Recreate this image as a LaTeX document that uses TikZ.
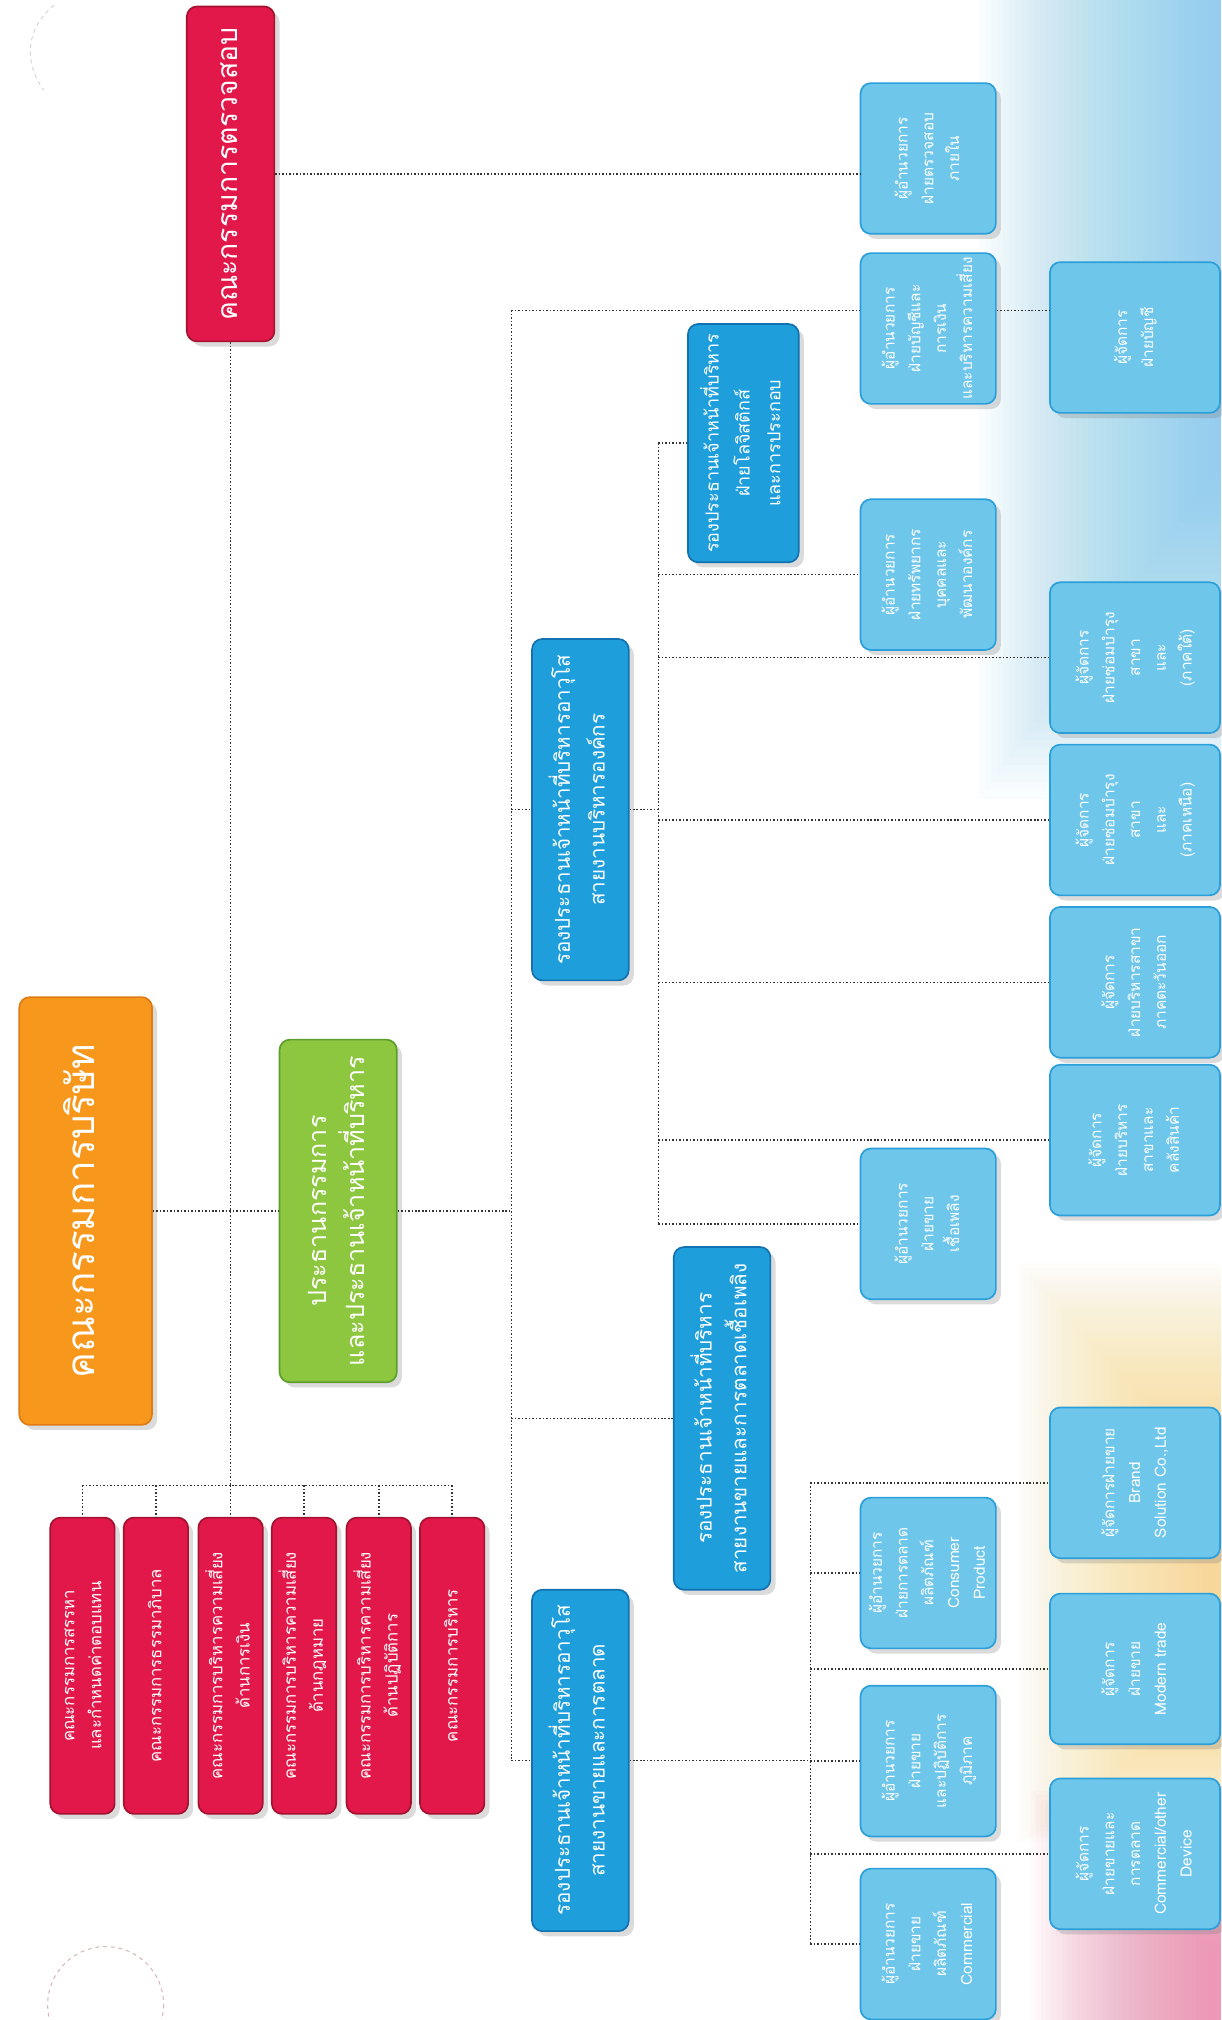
\documentclass[tikz,border=0pt]{standalone}
\usepackage{fontspec}
\usepackage{graphicx}
\newfontfamily\thai[Script=Thai]{Loma}
\usetikzlibrary{shadows,calc}
\definecolor{redF}{HTML}{E2184A}
\definecolor{redD}{HTML}{A3122F}
\definecolor{orgF}{HTML}{F7981D}
\definecolor{orgD}{HTML}{E07A14}
\definecolor{grnF}{HTML}{8DC63F}
\definecolor{grnD}{HTML}{5E9E2C}
\definecolor{bluF}{HTML}{1E9FDB}
\definecolor{bluD}{HTML}{1271B0}
\definecolor{lbF}{HTML}{6EC6EA}
\definecolor{lbD}{HTML}{2B9FD9}
\definecolor{bgBlue}{HTML}{7CCBEE}
\definecolor{bgYel}{HTML}{F8D77E}
\definecolor{bgPink}{HTML}{EC7FA6}
\newcommand{\rtxt}[1]{\rotatebox{90}{\begin{tabular}{@{}c@{}}#1\end{tabular}}}
\begin{document}
\begin{tikzpicture}[x=1pt,y=-1pt,
  box/.style={rounded corners=8pt, line width=1.3pt, inner sep=0pt, text=white,
    drop shadow={shadow xshift=4pt, shadow yshift=-4pt, opacity=0.28}},
  redbox/.style={box, fill=redF, draw=redD},
  orgbox/.style={box, fill=orgF, draw=orgD},
  grnbox/.style={box, fill=grnF, draw=grnD},
  vpbox/.style={box, fill=bluF, draw=bluD, font=\thai\fontsize{16}{27}\selectfont},
  lbbox/.style={box, fill=lbF, draw=lbD, font=\thai\fontsize{12}{20}\selectfont},
  abox/.style={lbbox, minimum width=105, minimum height=117},
  bbox/.style={lbbox, minimum width=132, minimum height=117},
  cbox/.style={redbox, minimum width=50, minimum height=230, font=\thai\fontsize{13}{21}\selectfont},
  conn/.style={line width=1.2pt, dash pattern=on 1.2pt off 1.5pt, black!80}
]
\useasboundingbox (0,0) rectangle (948,1568);
\fill[white] (0,0) rectangle (948,1568);
% background tints (stacked translucent layers)
\foreach \i in {0,...,39}
  \fill[bgBlue, opacity=0.032] (760+\i*4.7,0) rectangle (948,620-\i*6.5);
\foreach \i in {0,...,35}
  \fill[bgYel, opacity=0.032] (790+\i*4.2,980+\i*4.5) rectangle (948,1430-\i*3);
\foreach \i in {0,...,35}
  \fill[bgPink, opacity=0.036] (800+\i*4,1390+\i*3.5) rectangle (948,1568);
% decorative dashed curves
\draw[dashed, red!25!gray!45, line width=0.8pt] (82,1556) circle (45);
\draw[dashed, gray!35, line width=0.7pt] (42,4) .. controls (20,22) and (18,48) .. (34,70);

% top level
\node[redbox, font=\thai\fontsize{22}{26}\selectfont, minimum width=68, minimum height=260] (audit) at (179,135) {\rtxt{คณะกรรมการตรวจสอบ}};
\node[orgbox, font=\thai\fontsize{30}{36}\selectfont, minimum width=103, minimum height=332] (board) at (66.5,940) {\rtxt{คณะกรรมการบริษัท}};
\node[grnbox, font=\thai\fontsize{19.5}{29}\selectfont, minimum width=91, minimum height=266] (ceo) at (262.5,940) {\rtxt{ประธานกรรมการ\\และประธานเจ้าหน้าที่บริหาร}};

% committees
\node[cbox] (c1) at (64,1293) {\rtxt{คณะกรรมการสรรหา\\และกำหนดค่าตอบแทน}};
\node[cbox] (c2) at (121,1293) {\rtxt{คณะกรรมการธรรมาภิบาล}};
\node[cbox] (c3) at (179,1293) {\rtxt{คณะกรรมการบริหารความเสี่ยง\\ด้านการเงิน}};
\node[cbox] (c4) at (236,1293) {\rtxt{คณะกรรมการบริหารความเสี่ยง\\ด้านกฎหมาย}};
\node[cbox] (c5) at (294,1293) {\rtxt{คณะกรรมการบริหารความเสี่ยง\\ด้านปฏิบัติการ}};
\node[cbox] (c6) at (351,1293) {\rtxt{คณะกรรมการบริหาร}};

% vice presidents
\node[vpbox, minimum width=75, minimum height=265] (vp1) at (450.5,628.5) {\rtxt{รองประธานเจ้าหน้าที่บริหารอาวุโส\\สายงานบริหารองค์กร}};
\node[vpbox, font=\thai\fontsize{14}{24}\selectfont, minimum width=86, minimum height=185] (vp2) at (577,344) {\rtxt{รองประธานเจ้าหน้าที่บริหาร\\ฝ่ายโลจิสติกส์\\และการประกอบ}};
\node[vpbox, minimum width=75, minimum height=266] (vp3) at (560.5,1101) {\rtxt{รองประธานเจ้าหน้าที่บริหาร\\สายงานขายและการตลาดเชื้อเพลิง}};
\node[vpbox, minimum width=75, minimum height=265] (vp4) at (450.5,1366.5) {\rtxt{รองประธานเจ้าหน้าที่บริหารอาวุโส\\สายงานขายและการตลาด}};

% column A
\node[abox] (a1) at (720.5,123) {\rtxt{ผู้อำนวยการ\\ฝ่ายตรวจสอบ\\ภายใน}};
\node[abox] (a2) at (720.5,255) {\rtxt{ผู้อำนวยการ\\ฝ่ายบัญชีและ\\การเงิน\\และบริหารความเสี่ยง}};
\node[abox] (a3) at (720.5,446) {\rtxt{ผู้อำนวยการ\\ฝ่ายทรัพยากร\\บุคคลและ\\พัฒนาองค์กร}};
\node[abox] (a4) at (720.5,950) {\rtxt{ผู้อำนวยการ\\ฝ่ายขาย\\เชื้อเพลิง}};
\node[abox] (a5) at (720.5,1221) {\rtxt{ผู้อำนวยการ\\ฝ่ายการตลาด\\ผลิตภัณฑ์\\Consumer\\Product}};
\node[abox] (a6) at (720.5,1367) {\rtxt{ผู้อำนวยการ\\ฝ่ายขาย\\และปฏิบัติการ\\ภูมิภาค}};
\node[abox] (a7) at (720.5,1509) {\rtxt{ผู้อำนวยการ\\ฝ่ายขาย\\ผลิตภัณฑ์\\Commercial}};

% column B
\node[bbox] (b1) at (881,262) {\rtxt{ผู้จัดการ\\ฝ่ายบัญชี}};
\node[bbox] (b2) at (881,510.5) {\rtxt{ผู้จัดการ\\ฝ่ายซ่อมบำรุง\\สาขา\\และ\\(ภาคใต้)}};
\node[bbox] (b3) at (881,636.5) {\rtxt{ผู้จัดการ\\ฝ่ายซ่อมบำรุง\\สาขา\\และ\\(ภาคเหนือ)}};
\node[bbox] (b4) at (881,762.5) {\rtxt{ผู้จัดการ\\ฝ่ายบริหารสาขา\\ภาคตะวันออก}};
\node[bbox] (b5) at (881,885) {\rtxt{ผู้จัดการ\\ฝ่ายบริหาร\\สาขาและ\\คลังสินค้า}};
\node[bbox] (b6) at (881,1151) {\rtxt{ผู้จัดการฝ่ายขาย\\Brand\\Solution Co.,Ltd}};
\node[bbox] (b7) at (881,1295.5) {\rtxt{ผู้จัดการ\\ฝ่ายขาย\\Modern trade}};
\node[bbox] (b8) at (881,1439) {\rtxt{ผู้จัดการ\\ฝ่ายขายและ\\การตลาด\\Commercial/other\\Device}};

% spine coordinates
\coordinate (bus) at (179,1153);
\coordinate (sp2t) at (397,241);
\coordinate (sp2b) at (397,1366.5);
\coordinate (sp3t) at (511,344);
\coordinate (sp3b) at (511,950);
\coordinate (sp4t) at (629,1151);
\coordinate (sp4b) at (629,1509);

% connectors: board level
\draw[conn] (audit.east) -- (a1.west |- audit.east);
\draw[conn] (audit.south) -- (bus);
\draw[conn] (c1.north |- bus) -- (c6.north |- bus);
\foreach \c in {c1,c2,c3,c4,c5,c6} \draw[conn] (\c.north |- bus) -- (\c.north);
\draw[conn] (board.east) -- (ceo.west);
\draw[conn] (ceo.east) -- (ceo.east -| sp2t);
% spine 2
\draw[conn] (sp2t) -- (sp2b);
\draw[conn] (sp2t) -- (a2.west |- sp2t);
\draw[conn] (a2.east |- sp2t) -- (b1.west |- sp2t);
\draw[conn] (vp1.west -| sp2t) -- (vp1.west);
\draw[conn] (vp3.west -| sp2t) -- (vp3.west);
\draw[conn] (sp2b) -- (vp4.west);
% spine 3
\draw[conn] (vp1.east) -- (vp1.east -| sp3t);
\draw[conn] (sp3t) -- (sp3b);
\draw[conn] (sp3t) -- (vp2.west);
\draw[conn] (a3.west -| sp3t) -- (a3.west);
\foreach \b in {b2,b3,b4,b5} \draw[conn] (\b.west -| sp3t) -- (\b.west);
\draw[conn] (sp3b) -- (a4.west);
% spine 4
\draw[conn] (vp4.east) -- (vp4.east -| sp4t);
\draw[conn] (sp4t) -- (sp4b);
\foreach \n in {b6,a5,b7,a6,b8,a7} \draw[conn] (\n.west -| sp4t) -- (\n.west);
\end{tikzpicture}
\end{document}
